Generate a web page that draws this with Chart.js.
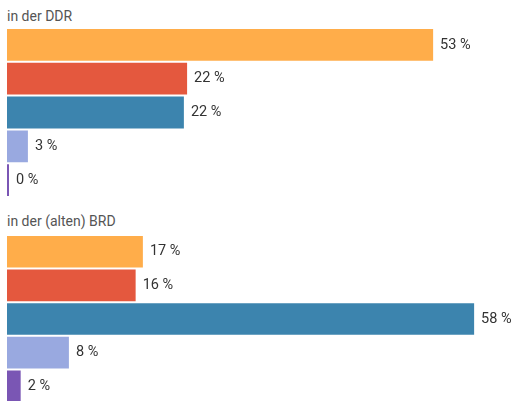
<!DOCTYPE html>
<html>
<head>
<meta charset="utf-8">
<script src="https://cdn.jsdelivr.net/npm/chart.js@4"></script>
<style>
  body { margin: 0; background: #fff; width: 515px; height: 401px; overflow: hidden; position: relative; font-family: Roboto, sans-serif; }
  .head { position: absolute; left: 7px; font-size: 14px; color: #555; }
  .box { position: absolute; left: 0; width: 515px; }
</style>
</head>
<body>
<div class="head" style="top:8px">in der DDR</div>
<div class="box" style="top:28px;height:169px"><canvas id="ddr"></canvas></div>
<div class="head" style="top:213px">in der (alten) BRD</div>
<div class="box" style="top:235px;height:168px"><canvas id="brd"></canvas></div>
<script>
"use strict";

var categories = ["Kategorie 1", "Kategorie 2", "Kategorie 3", "Kategorie 4", "Kategorie 5"];
var ddrValues = [53, 22.4, 22.0, 2.6, 0];
var brdValues = [16.9, 16.0, 58.1, 7.7, 1.7];
var colors = ['#FFAD4A', '#E4583E', '#3C84AE', '#99A9E0', '#7A56B4'];

var valueLabels = {
    id: 'valueLabels',
    afterDatasetsDraw: function (chart) {
        var ctx = chart.ctx;
        var meta = chart.getDatasetMeta(0);
        var data = chart.data.datasets[0].data;
        ctx.save();
        ctx.font = '14.5px Roboto, sans-serif';
        ctx.fillStyle = '#333';
        ctx.textBaseline = 'middle';
        meta.data.forEach(function (bar, i) {
            var end = Math.max(bar.x, chart.chartArea.left + 2);
            ctx.fillText(Math.round(data[i]) + ' %', end + 7, bar.y);
        });
        ctx.restore();
    }
};

function makeChart(id, values) {
    return new Chart(document.getElementById(id).getContext('2d'), {
        type: 'bar',
        data: {
            labels: categories,
            datasets: [{
                data: values,
                backgroundColor: colors,
                borderWidth: 0,
                minBarLength: 2,
                barPercentage: 0.94,
                categoryPercentage: 1
            }]
        },
        options: {
            indexAxis: 'y',
            responsive: true,
            maintainAspectRatio: false,
            animation: false,
            layout: { padding: { left: 7, right: 5.5, top: 0, bottom: 0 } },
            scales: {
                x: { display: false, min: 0, max: 62.5 },
                y: { display: false }
            },
            plugins: {
                legend: { display: false },
                tooltip: { enabled: false }
            }
        },
        plugins: [valueLabels]
    });
}

makeChart('ddr', ddrValues);
makeChart('brd', brdValues);
</script>
</body>
</html>
